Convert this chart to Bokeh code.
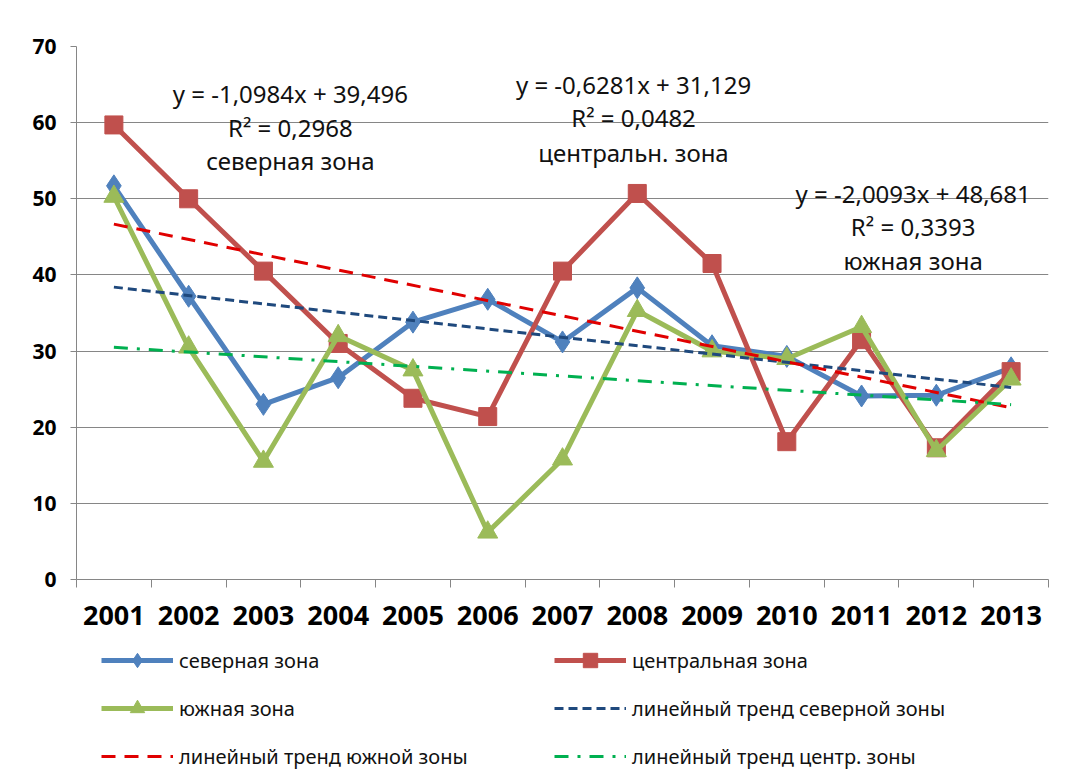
from bokeh.plotting import figure
from bokeh.layouts import column
from bokeh.models import Legend, LegendItem, LinearAxis, FixedTicker, Label, Range1d
from bokeh.embed import file_html
from bokeh.resources import INLINE

years = ["2001", "2002", "2003", "2004", "2005", "2006", "2007",
         "2008", "2009", "2010", "2011", "2012", "2013"]
north = [51.7, 37.2, 23.0, 26.5, 33.8, 36.8, 31.2, 38.3, 30.7, 29.3, 24.1, 24.2, 27.8]
central = [59.7, 50.0, 40.5, 31.0, 23.8, 21.4, 40.5, 50.7, 41.5, 18.1, 31.5, 17.3, 27.3]
south = [50.3, 30.5, 15.5, 32.0, 27.5, 6.2, 15.8, 35.3, 30.0, 29.0, 33.2, 16.9, 26.3]

series_names = ["северная зона", "центральная зона", "южная зона"]
trend_names = ["линейный тренд северной зоны", "линейный тренд южной зоны", "линейный тренд центр. зоны"]
trend_slopes = [-1.0984, -2.0093, -0.6281]
trend_intercepts = [39.496, 48.681, 31.129]
eq_lines = [
    ["y = -1,0984x + 39,496", "R² = 0,2968", "северная зона"],
    ["y = -0,6281x + 31,129", "R² = 0,0482", "центральн. зона"],
    ["y = -2,0093x + 48,681", "R² = 0,3393", "южная зона"],
]

FONT = "Noto Sans"
x = list(range(1, len(years) + 1))

p = figure(width=1066, height=636, x_range=Range1d(0.5, 13.5), y_range=Range1d(0, 70),
           output_backend="svg", toolbar_location=None,
           min_border_left=76, min_border_right=18, min_border_top=46, min_border_bottom=57)
p.outline_line_color = None
p.xgrid.visible = False
p.ygrid.grid_line_color = "#868686"
p.ygrid.grid_line_width = 1
p.ygrid.ticker = FixedTicker(ticks=list(range(0, 71, 10)))

# y axis
p.yaxis.ticker = FixedTicker(ticks=list(range(0, 71, 10)))
p.yaxis.axis_line_color = "#868686"
p.yaxis.major_tick_line_color = "#868686"
p.yaxis.major_tick_out = 6
p.yaxis.major_tick_in = 0
p.yaxis.minor_tick_line_color = None
p.yaxis.major_label_text_font = FONT
p.yaxis.major_label_text_font_style = "bold"
p.yaxis.major_label_text_font_size = "21px"
p.yaxis.major_label_text_color = "black"
p.yaxis.major_label_standoff = 14

# x axis: boundary tick marks
p.xaxis.ticker = FixedTicker(ticks=[i + 0.5 for i in range(0, 14)])
p.xaxis.major_label_text_font_size = "0px"
p.xaxis.major_label_standoff = 0
p.xaxis.axis_line_color = "#868686"
p.xaxis.major_tick_line_color = "#868686"
p.xaxis.major_tick_out = 8
p.xaxis.major_tick_in = 0
p.xaxis.minor_tick_line_color = None

# x axis: labels at category centres
lab_axis = LinearAxis(ticker=FixedTicker(ticks=x),
                      major_label_overrides={xi: yr for xi, yr in zip(x, years)})
lab_axis.axis_line_color = None
lab_axis.major_tick_line_color = None
lab_axis.minor_tick_line_color = None
lab_axis.major_label_text_font = FONT
lab_axis.major_label_text_font_style = "bold"
lab_axis.major_label_text_font_size = "27px"
lab_axis.major_label_text_color = "black"
lab_axis.major_label_standoff = 12
p.add_layout(lab_axis, "below")

# legend-only figure below the chart (its renderers are hidden)
p2 = figure(width=1066, height=138, x_range=Range1d(0.5, 13.5), y_range=Range1d(0, 70),
            output_backend="svg", toolbar_location=None,
            x_axis_location=None, y_axis_location=None, min_border=0)
p2.outline_line_color = None
p2.grid.visible = False

# series
colors = ["#4F81BD", "#C0504D", "#9BBB59"]
markers = ["diamond", "square", "triangle"]
sizes = [22, 18, 20]
items = {}
for name, vals, c, m, s in zip(series_names, [north, central, south], colors, markers, sizes):
    p.line(x, vals, line_color=c, line_width=5)
    p.scatter(x, vals, marker=m, size=s, fill_color=c, line_color=c)
    ln2 = p2.line(x, vals, line_color=c, line_width=5, visible=False)
    sc2 = p2.scatter(x, vals, marker=m, size=s, fill_color=c, line_color=c, visible=False)
    items[name] = [ln2, sc2]

# trend lines from the displayed equations
trend_colors = ["#1F497D", "#E00000", "#00B050"]
trend_dashes = ["9 5", "14 9", "14 9 3 9"]
for name, k, b, c, d in zip(trend_names, trend_slopes, trend_intercepts, trend_colors, trend_dashes):
    xs = [x[0], x[-1]]
    ys = [k * xs[0] + b, k * xs[1] + b]
    p.line(xs, ys, line_color=c, line_width=3, line_dash=d)
    items[name] = [p2.line(xs, ys, line_color=c, line_width=3, line_dash=d, visible=False)]

# equation labels
eq_pos = [(3.36, [63.8, 59.4, 55.0]), (7.95, [65.0, 60.7, 56.1]), (11.69, [50.7, 46.4, 41.9])]
for lines, (lx, lys) in zip(eq_lines, eq_pos):
    for t, ly in zip(lines, lys):
        p.add_layout(Label(x=lx, y=ly, text=t, text_align="center", text_baseline="middle",
                           text_font=FONT, text_font_size="24px", text_color="#111111"))

order = [series_names[0], series_names[1], series_names[2], trend_names[0], trend_names[1], trend_names[2]]
legend = Legend(items=[LegendItem(label=n, renderers=items[n]) for n in order],
                ncols=2, orientation="horizontal", location=(25, 0))
legend.label_text_font = FONT
legend.label_text_font_size = "20px"
legend.label_text_color = "#111111"
legend.glyph_width = 72
legend.glyph_height = 36
legend.label_height = 36
legend.label_width = 363
legend.label_standoff = 6
legend.spacing = 12
legend.padding = 0
legend.margin = 0
legend.border_line_color = None
legend.background_fill_alpha = 0
legend.inactive_fill_alpha = 0
p2.add_layout(legend, "center")

open("out.html", "w").write(file_html(column(p, p2, spacing=0), INLINE))
